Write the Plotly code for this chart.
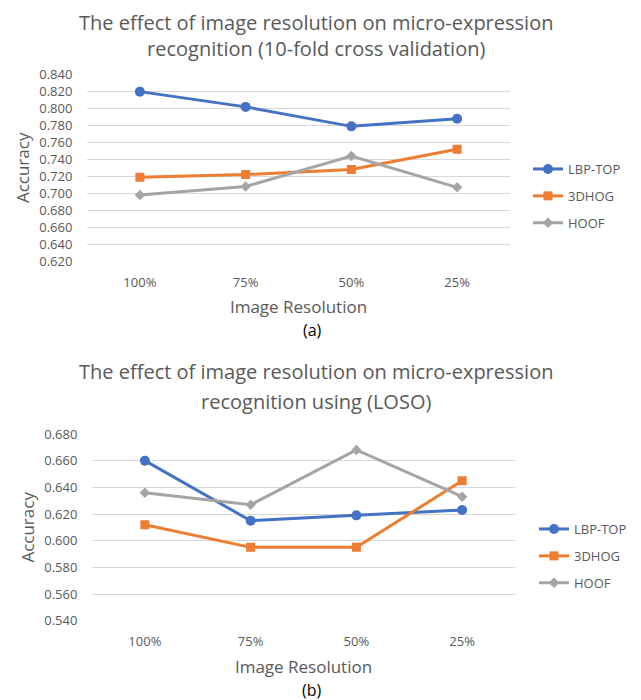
import plotly.graph_objects as go

categories = ["100%", "75%", "50%", "25%"]

# (a) 10-fold cross validation
a_lbp = [0.820, 0.802, 0.779, 0.788]
a_3dhog = [0.719, 0.722, 0.728, 0.752]
a_hoof = [0.698, 0.708, 0.744, 0.707]

# (b) LOSO
b_lbp = [0.660, 0.615, 0.619, 0.623]
b_3dhog = [0.612, 0.595, 0.595, 0.645]
b_hoof = [0.636, 0.627, 0.668, 0.633]

series_names = ["LBP-TOP", "3DHOG", "HOOF"]
colors = ["#4472C4", "#ED7D31", "#A5A5A5"]
symbols = ["circle", "square", "diamond"]
msizes = [10, 9, 8]

title_a = ["The effect of image resolution on micro-expression",
           "recognition (10-fold cross validation)"]
title_b = ["The effect of image resolution on micro-expression",
           "recognition using (LOSO)"]

FONT = "Open Sans"
GRAY = "#595959"
W, H = 641, 700
OFF = 8  # default page body margin

fig = go.Figure()

for data, xa, ya, lg in [((a_lbp, a_3dhog, a_hoof), "x", "y", "legend"),
                         ((b_lbp, b_3dhog, b_hoof), "x2", "y2", "legend2")]:
    for i, vals in enumerate(data):
        fig.add_trace(go.Scatter(
            x=categories, y=vals, name=series_names[i], mode="lines+markers",
            line=dict(color=colors[i], width=3),
            marker=dict(symbol=symbols[i], size=msizes[i], color=colors[i]),
            xaxis=xa, yaxis=ya, legend=lg, legendgroup=lg + str(i),
        ))

def px_x(p):
    return (p - OFF) / W

def px_y(p):
    return 1 - (p - OFF) / H

TRANSP = "rgba(0,0,0,0)"
axis_common = dict(showgrid=False, showline=False, ticks="outside", ticklen=9,
                   tickcolor=TRANSP, zeroline=False,
                   automargin=False, range=[-0.5, 3.5],
                   tickfont=dict(family=FONT, size=13, color=GRAY),
                   type="category")
yaxis_common = dict(showgrid=True, gridcolor="#D9D9D9", gridwidth=1, zeroline=False,
                    showline=False, ticks="outside", ticklen=11, tickcolor=TRANSP,
                    tickformat=".3f", automargin=False,
                    tickfont=dict(family=FONT, size=13, color=GRAY))
xtitle = dict(text="Image Resolution", font=dict(size=17, color=GRAY), standoff=11)
ytitle = dict(text="Accuracy", font=dict(size=17, color=GRAY), standoff=5)

fig.update_layout(
    width=W, height=H,
    margin=dict(l=0, r=0, t=0, b=0, autoexpand=False),
    paper_bgcolor="white", plot_bgcolor="white",
    font=dict(family=FONT, color=GRAY),
    xaxis=dict(domain=[px_x(87), px_x(510)], anchor="y", title=xtitle, **axis_common),
    yaxis=dict(domain=[px_y(261), px_y(74.7)], anchor="x", range=[0.62, 0.84], dtick=0.02,
               title=ytitle, **yaxis_common),
    xaxis2=dict(domain=[px_x(92), px_x(515)], anchor="y2", title=xtitle, **axis_common),
    yaxis2=dict(domain=[px_y(620.7), px_y(434)], anchor="x2", range=[0.54, 0.68], dtick=0.02,
                title=ytitle, **yaxis_common),
    legend=dict(x=px_x(528), y=px_y(154), xanchor="left", yanchor="top",
                font=dict(family=FONT, size=13, color=GRAY), tracegroupgap=7,
                bgcolor=TRANSP),
    legend2=dict(x=px_x(534), y=px_y(514), xanchor="left", yanchor="top",
                 font=dict(family=FONT, size=13, color=GRAY), tracegroupgap=7,
                 bgcolor=TRANSP),
)

annotations = [
    dict(text="<br>".join(title_a), x=px_x(316), y=1.0, yanchor="top", font=dict(size=20, color=GRAY)),
    dict(text="(a)", x=px_x(312), y=px_y(330), yanchor="middle", font=dict(size=16, color="#000000")),
    dict(text=title_b[0], x=px_x(316), y=px_y(371), yanchor="middle", font=dict(size=20, color=GRAY)),
    dict(text=title_b[1], x=px_x(316), y=px_y(401), yanchor="middle", font=dict(size=20, color=GRAY)),
    dict(text="(b)", x=px_x(312), y=px_y(690), yanchor="middle", font=dict(size=16, color="#000000")),
]
for a in annotations:
    fig.add_annotation(xref="paper", yref="paper", showarrow=False,
                       xanchor="center", align="center", borderpad=0,
                       font_family=FONT, **a)

fig.write_html("out.html")
